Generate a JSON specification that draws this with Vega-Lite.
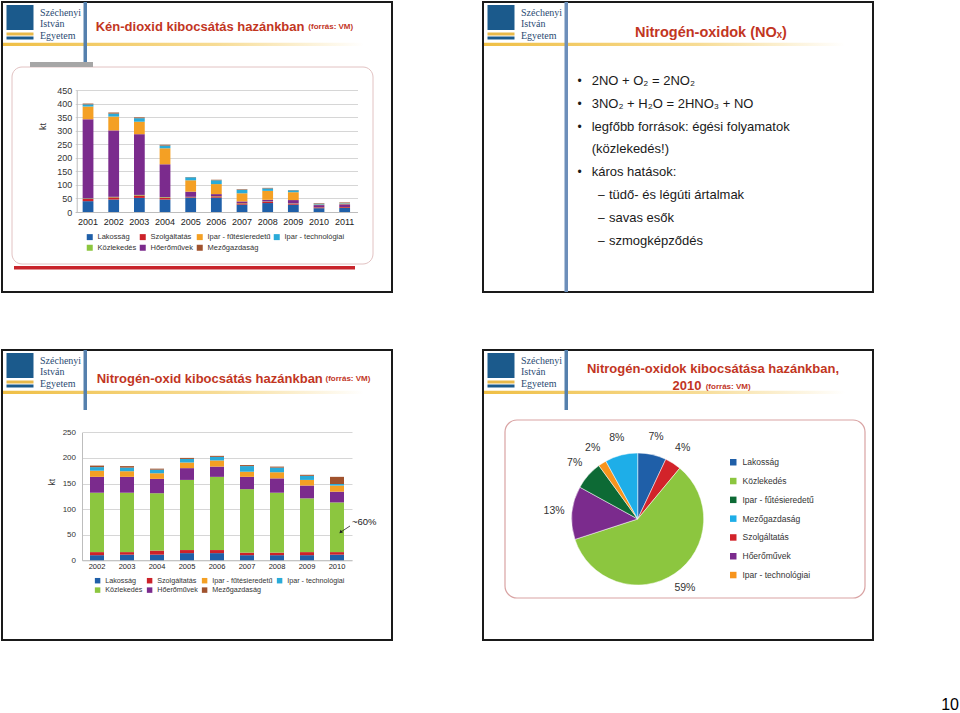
{
"$schema": "https://vega.github.io/schema/vega-lite/v6.json",
"padding": {"left": 1, "top": 1, "right": 0, "bottom": 0},
"config": {"view": {"stroke": "#1a1a1a", "strokeWidth": 2}, "font": "Liberation Sans"},
"title": {"text": "10", "orient": "bottom", "anchor": "end", "offset": 56, "dx": 85, "fontSize": 16, "fontWeight": "normal", "color": "#000000", "font": "Liberation Sans"},
"datasets": {
"so2": [
{"ev":"2001","s":"Lakosság","v":40},{"ev":"2001","s":"Szolgáltatás","v":8},{"ev":"2001","s":"Közlekedés","v":2},{"ev":"2001","s":"Hőerőművek","v":292},{"ev":"2001","s":"Ipar - fűtésieredetű","v":47},{"ev":"2001","s":"Ipar - technológiai","v":8},{"ev":"2001","s":"Mezőgazdaság","v":3},
{"ev":"2002","s":"Lakosság","v":46},{"ev":"2002","s":"Szolgáltatás","v":8},{"ev":"2002","s":"Közlekedés","v":2},{"ev":"2002","s":"Hőerőművek","v":245},{"ev":"2002","s":"Ipar - fűtésieredetű","v":51},{"ev":"2002","s":"Ipar - technológiai","v":11},{"ev":"2002","s":"Mezőgazdaság","v":4},
{"ev":"2003","s":"Lakosság","v":52},{"ev":"2003","s":"Szolgáltatás","v":9},{"ev":"2003","s":"Közlekedés","v":2},{"ev":"2003","s":"Hőerőművek","v":224},{"ev":"2003","s":"Ipar - fűtésieredetű","v":46},{"ev":"2003","s":"Ipar - technológiai","v":13},{"ev":"2003","s":"Mezőgazdaság","v":3},
{"ev":"2004","s":"Lakosság","v":46},{"ev":"2004","s":"Szolgáltatás","v":7},{"ev":"2004","s":"Közlekedés","v":2},{"ev":"2004","s":"Hőerőművek","v":121},{"ev":"2004","s":"Ipar - fűtésieredetű","v":59},{"ev":"2004","s":"Ipar - technológiai","v":10},{"ev":"2004","s":"Mezőgazdaság","v":3},
{"ev":"2005","s":"Lakosság","v":53},{"ev":"2005","s":"Szolgáltatás","v":2},{"ev":"2005","s":"Közlekedés","v":1},{"ev":"2005","s":"Hőerőművek","v":19},{"ev":"2005","s":"Ipar - fűtésieredetű","v":42},{"ev":"2005","s":"Ipar - technológiai","v":11},{"ev":"2005","s":"Mezőgazdaság","v":1},
{"ev":"2006","s":"Lakosság","v":53},{"ev":"2006","s":"Szolgáltatás","v":5},{"ev":"2006","s":"Közlekedés","v":1},{"ev":"2006","s":"Hőerőművek","v":7},{"ev":"2006","s":"Ipar - fűtésieredetű","v":37},{"ev":"2006","s":"Ipar - technológiai","v":14},{"ev":"2006","s":"Mezőgazdaság","v":2},
{"ev":"2007","s":"Lakosság","v":27},{"ev":"2007","s":"Szolgáltatás","v":5},{"ev":"2007","s":"Közlekedés","v":1},{"ev":"2007","s":"Hőerőművek","v":6},{"ev":"2007","s":"Ipar - fűtésieredetű","v":30},{"ev":"2007","s":"Ipar - technológiai","v":13},{"ev":"2007","s":"Mezőgazdaság","v":2},
{"ev":"2008","s":"Lakosság","v":33},{"ev":"2008","s":"Szolgáltatás","v":5},{"ev":"2008","s":"Közlekedés","v":1},{"ev":"2008","s":"Hőerőművek","v":6},{"ev":"2008","s":"Ipar - fűtésieredetű","v":33},{"ev":"2008","s":"Ipar - technológiai","v":9},{"ev":"2008","s":"Mezőgazdaság","v":2},
{"ev":"2009","s":"Lakosság","v":27},{"ev":"2009","s":"Szolgáltatás","v":4},{"ev":"2009","s":"Közlekedés","v":1},{"ev":"2009","s":"Hőerőművek","v":12},{"ev":"2009","s":"Ipar - fűtésieredetű","v":29},{"ev":"2009","s":"Ipar - technológiai","v":7},{"ev":"2009","s":"Mezőgazdaság","v":1},
{"ev":"2010","s":"Lakosság","v":14},{"ev":"2010","s":"Szolgáltatás","v":3},{"ev":"2010","s":"Közlekedés","v":0.5},{"ev":"2010","s":"Hőerőművek","v":8},{"ev":"2010","s":"Ipar - fűtésieredetű","v":2},{"ev":"2010","s":"Ipar - technológiai","v":3},{"ev":"2010","s":"Mezőgazdaság","v":2},
{"ev":"2011","s":"Lakosság","v":15},{"ev":"2011","s":"Szolgáltatás","v":3},{"ev":"2011","s":"Közlekedés","v":0.5},{"ev":"2011","s":"Hőerőművek","v":10},{"ev":"2011","s":"Ipar - fűtésieredetű","v":3},{"ev":"2011","s":"Ipar - technológiai","v":2},{"ev":"2011","s":"Mezőgazdaság","v":2}
],
"nox": [
{"ev":"2002","s":"Lakosság","v":10},{"ev":"2002","s":"Szolgáltatás","v":6},{"ev":"2002","s":"Közlekedés","v":116},{"ev":"2002","s":"Hőerőművek","v":31},{"ev":"2002","s":"Ipar - fűtésieredetű","v":12},{"ev":"2002","s":"Ipar - technológiai","v":7},{"ev":"2002","s":"Mezőgazdaság","v":3},
{"ev":"2003","s":"Lakosság","v":11},{"ev":"2003","s":"Szolgáltatás","v":5},{"ev":"2003","s":"Közlekedés","v":116},{"ev":"2003","s":"Hőerőművek","v":31},{"ev":"2003","s":"Ipar - fűtésieredetű","v":11},{"ev":"2003","s":"Ipar - technológiai","v":7},{"ev":"2003","s":"Mezőgazdaság","v":3},
{"ev":"2004","s":"Lakosság","v":11},{"ev":"2004","s":"Szolgáltatás","v":8},{"ev":"2004","s":"Közlekedés","v":112},{"ev":"2004","s":"Hőerőművek","v":28},{"ev":"2004","s":"Ipar - fűtésieredetű","v":11},{"ev":"2004","s":"Ipar - technológiai","v":7},{"ev":"2004","s":"Mezőgazdaság","v":2},
{"ev":"2005","s":"Lakosság","v":14},{"ev":"2005","s":"Szolgáltatás","v":6},{"ev":"2005","s":"Közlekedés","v":137},{"ev":"2005","s":"Hőerőművek","v":23},{"ev":"2005","s":"Ipar - fűtésieredetű","v":11},{"ev":"2005","s":"Ipar - technológiai","v":7},{"ev":"2005","s":"Mezőgazdaság","v":2},
{"ev":"2006","s":"Lakosság","v":14},{"ev":"2006","s":"Szolgáltatás","v":6},{"ev":"2006","s":"Közlekedés","v":143},{"ev":"2006","s":"Hőerőművek","v":20},{"ev":"2006","s":"Ipar - fűtésieredetű","v":12},{"ev":"2006","s":"Ipar - technológiai","v":7},{"ev":"2006","s":"Mezőgazdaság","v":2},
{"ev":"2007","s":"Lakosság","v":10},{"ev":"2007","s":"Szolgáltatás","v":5},{"ev":"2007","s":"Közlekedés","v":124},{"ev":"2007","s":"Hőerőművek","v":24},{"ev":"2007","s":"Ipar - fűtésieredetű","v":10},{"ev":"2007","s":"Ipar - technológiai","v":11},{"ev":"2007","s":"Mezőgazdaság","v":2},
{"ev":"2008","s":"Lakosság","v":10},{"ev":"2008","s":"Szolgáltatás","v":5},{"ev":"2008","s":"Közlekedés","v":117},{"ev":"2008","s":"Hőerőművek","v":28},{"ev":"2008","s":"Ipar - fűtésieredetű","v":12},{"ev":"2008","s":"Ipar - technológiai","v":9},{"ev":"2008","s":"Mezőgazdaság","v":2},
{"ev":"2009","s":"Lakosság","v":10},{"ev":"2009","s":"Szolgáltatás","v":6},{"ev":"2009","s":"Közlekedés","v":105},{"ev":"2009","s":"Hőerőművek","v":25},{"ev":"2009","s":"Ipar - fűtésieredetű","v":11},{"ev":"2009","s":"Ipar - technológiai","v":8},{"ev":"2009","s":"Mezőgazdaság","v":2},
{"ev":"2010","s":"Lakosság","v":11},{"ev":"2010","s":"Szolgáltatás","v":5},{"ev":"2010","s":"Közlekedés","v":97},{"ev":"2010","s":"Hőerőművek","v":21},{"ev":"2010","s":"Ipar - fűtésieredetű","v":12},{"ev":"2010","s":"Ipar - technológiai","v":3},{"ev":"2010","s":"Mezőgazdaság","v":14}
],
"pie": [
{"s":"Lakosság","v":7},{"s":"Szolgáltatás","v":4},{"s":"Közlekedés","v":59},{"s":"Hőerőművek","v":13},{"s":"Ipar - fűtésieredetű","v":7},{"s":"Ipar - technológiai","v":2},{"s":"Mezőgazdaság","v":8}
],
"bullets": [
{"r":1,"lvl":"1","m":"•","t":"2NO + O₂ = 2NO₂"},
{"r":2,"lvl":"1","m":"•","t":"3NO₂ + H₂O = 2HNO₃ + NO"},
{"r":3,"lvl":"1","m":"•","t":"legfőbb források: égési folyamatok"},
{"r":4,"lvl":"1","m":"","t":"(közlekedés!)"},
{"r":5,"lvl":"1","m":"•","t":"káros hatások:"},
{"r":6,"lvl":"2","m":"–","t":"tüdő- és légúti ártalmak"},
{"r":7,"lvl":"2","m":"–","t":"savas esők"},
{"r":8,"lvl":"2","m":"–","t":"szmogképződés"}
],
"logo": [{"w":"Széchenyi"},{"w":"István"},{"w":"Egyetem"}],
"src": [{"t":"(forrás: VM)"}],
"yr": [{"t":"2010"}],
"one": [{"e":"a"}]
},
"resolve": {"scale": {"color": "independent"}, "legend": {"color": "independent"}},
"spacing": 56,
"vconcat": [
{"hconcat": [
{
"width": 390, "height": 290,
"title": {"text": "Kén-dioxid kibocsátás hazánkban", "orient": "top", "anchor": "start", "frame": "group", "offset": 0, "dx": 93.7, "dy": 31.5, "font": "Liberation Sans", "fontSize": 13, "fontWeight": "bold", "color": "#c2361f"},
"resolve": {"scale": {"x": "independent", "y": "independent"}},
"layer": [
{"data": {"name": "one"}, "mark": {"type": "rect", "filled": false, "stroke": "#e2c2c2", "strokeWidth": 1, "cornerRadius": 10},
 "encoding": {"x": {"field": "e", "type": "nominal", "scale": {"range": [10, 371], "paddingInner": 0, "paddingOuter": 0}, "axis": null}, "y": {"field": "e", "type": "nominal", "scale": {"range": [65, 262], "paddingInner": 0, "paddingOuter": 0}, "axis": null}}},
{"data": {"name": "one"}, "mark": {"type": "rect", "color": "#a6a6a6"},
 "encoding": {"x": {"field": "e", "type": "nominal", "scale": {"range": [28, 91], "paddingInner": 0, "paddingOuter": 0}, "axis": null}, "y": {"field": "e", "type": "nominal", "scale": {"range": [60, 65], "paddingInner": 0, "paddingOuter": 0}, "axis": null}}},
{"data": {"name": "one"}, "mark": {"type": "rect", "color": "#c8242b"},
 "encoding": {"x": {"field": "e", "type": "nominal", "scale": {"range": [12, 353], "paddingInner": 0, "paddingOuter": 0}, "axis": null}, "y": {"field": "e", "type": "nominal", "scale": {"range": [264, 267.5], "paddingInner": 0, "paddingOuter": 0}, "axis": null}}},
{"data": {"name": "one"}, "mark": {"type": "rect", "fill": {"gradient": "linear", "stops": [{"offset": 0, "color": "#efbf45"}, {"offset": 0.55, "color": "#f7dc95"}, {"offset": 0.93, "color": "#ffffff"}]}},
 "encoding": {"x": {"field": "e", "type": "nominal", "scale": {"range": [1, 389], "paddingInner": 0, "paddingOuter": 0}, "axis": null}, "y": {"field": "e", "type": "nominal", "scale": {"range": [40.7, 44], "paddingInner": 0, "paddingOuter": 0}, "axis": null}}},
{"data": {"name": "one"}, "mark": {"type": "rect", "color": "#5580ad"},
 "encoding": {"x": {"field": "e", "type": "nominal", "scale": {"range": [81.5, 85], "paddingInner": 0, "paddingOuter": 0}, "axis": null}, "y": {"field": "e", "type": "nominal", "scale": {"range": [0, 60], "paddingInner": 0, "paddingOuter": 0}, "axis": null}}},
{"data": {"name": "one"}, "mark": {"type": "rect", "color": "#1b5a8c"},
 "encoding": {"x": {"field": "e", "type": "nominal", "scale": {"range": [4.5, 31.5], "paddingInner": 0, "paddingOuter": 0}, "axis": null}, "y": {"field": "e", "type": "nominal", "scale": {"range": [3, 28], "paddingInner": 0, "paddingOuter": 0}, "axis": null}}},
{"data": {"name": "one"}, "mark": {"type": "rect", "color": "#e9b949"},
 "encoding": {"x": {"field": "e", "type": "nominal", "scale": {"range": [4.5, 31.5], "paddingInner": 0, "paddingOuter": 0}, "axis": null}, "y": {"field": "e", "type": "nominal", "scale": {"range": [30.5, 33.5], "paddingInner": 0, "paddingOuter": 0}, "axis": null}}},
{"data": {"name": "one"}, "mark": {"type": "rect", "color": "#1b5a8c"},
 "encoding": {"x": {"field": "e", "type": "nominal", "scale": {"range": [4.5, 31.5], "paddingInner": 0, "paddingOuter": 0}, "axis": null}, "y": {"field": "e", "type": "nominal", "scale": {"range": [34.5, 37.5], "paddingInner": 0, "paddingOuter": 0}, "axis": null}}},
{"data": {"name": "logo"}, "mark": {"type": "text", "align": "left", "baseline": "middle", "font": "Liberation Serif", "fontSize": 10, "color": "#2b4b73"},
 "encoding": {"text": {"field": "w"}, "x": {"field": "w", "type": "nominal", "scale": {"type": "point", "range": [38, 38], "padding": 0}, "axis": null}, "y": {"field": "w", "type": "nominal", "sort": null, "scale": {"type": "point", "domain": ["Széchenyi", "István", "Egyetem"], "range": [10.5, 33.5], "padding": 0}, "axis": null}}},
{"data": {"name": "src"}, "mark": {"type": "text", "align": "left", "baseline": "middle", "fontSize": 8, "fontWeight": "bold", "color": "#c2361f"},
 "encoding": {"text": {"field": "t"}, "x": {"field": "t", "type": "nominal", "scale": {"type": "point", "range": [306.3, 306.3], "padding": 0}, "axis": null}, "y": {"field": "t", "type": "nominal", "scale": {"type": "point", "range": [25, 25], "padding": 0}, "axis": null}}},
{"data": {"name": "so2"},
 "transform": [{"calculate": "indexof(['Lakosság','Szolgáltatás','Közlekedés','Hőerőművek','Ipar - fűtésieredetű','Ipar - technológiai','Mezőgazdaság'], datum.s)", "as": "k"}],
 "mark": {"type": "bar"},
 "encoding": {
  "x": {"field": "ev", "type": "ordinal", "scale": {"range": [73.2, 355.5], "paddingInner": 0.58, "paddingOuter": 0.29}, "axis": {"orient": "bottom", "offset": -80, "title": null, "labelAngle": 0, "labelFontSize": 9, "labelColor": "#222", "labelPadding": 5.5, "ticks": false, "domainColor": "#bdbdbd", "grid": false}},
  "y": {"field": "v", "type": "quantitative", "stack": "zero", "scale": {"domain": [0, 450], "range": [210, 88], "nice": false}, "axis": {"orient": "left", "offset": -74.7, "values": [0, 50, 100, 150, 200, 250, 300, 350, 400, 450], "title": "kt", "titleFontSize": 9, "titleFontWeight": "normal", "titleColor": "#333", "titleX": -34.2, "titleY": 124, "titleBaseline": "middle", "titleAlign": "center", "titleAngle": -90, "labelFontSize": 9, "labelColor": "#333", "labelPadding": 5, "ticks": false, "grid": true, "gridColor": "#d6d6d6", "domainColor": "#bdbdbd"}},
  "color": {"field": "s", "type": "nominal", "scale": {"domain": ["Lakosság", "Szolgáltatás", "Ipar - fűtésieredetű", "Ipar - technológiai", "Közlekedés", "Hőerőművek", "Mezőgazdaság"], "range": ["#1f5fa8", "#cc2229", "#f4a024", "#2aabd9", "#8cc63f", "#7b2b8d", "#a0522d"]}, "legend": {"orient": "none", "direction": "horizontal", "legendX": 84, "legendY": 231, "columns": 4, "title": null, "symbolType": "square", "symbolSize": 36, "symbolStrokeWidth": 0, "labelFontSize": 7.5, "labelColor": "#333", "columnPadding": 2, "rowPadding": 2, "labelOffset": 4, "padding": 0}},
  "order": {"field": "k", "type": "quantitative"}
 }}
]
},
{
"width": 390, "height": 290,
"title": {"text": "Nitrogén-oxidok (NOₓ)", "orient": "top", "anchor": "start", "frame": "group", "offset": 0, "dx": 152, "dy": 38.25, "font": "Liberation Sans", "fontSize": 14.5, "fontWeight": "bold", "color": "#c2361f"},
"resolve": {"scale": {"x": "independent", "y": "independent"}},
"layer": [
{"data": {"name": "one"}, "mark": {"type": "rect", "fill": {"gradient": "linear", "stops": [{"offset": 0, "color": "#efbf45"}, {"offset": 0.55, "color": "#f7dc95"}, {"offset": 0.93, "color": "#ffffff"}]}},
 "encoding": {"x": {"field": "e", "type": "nominal", "scale": {"range": [1, 389], "paddingInner": 0, "paddingOuter": 0}, "axis": null}, "y": {"field": "e", "type": "nominal", "scale": {"range": [40.7, 44], "paddingInner": 0, "paddingOuter": 0}, "axis": null}}},
{"data": {"name": "one"}, "mark": {"type": "rect", "color": "#6d8fba"},
 "encoding": {"x": {"field": "e", "type": "nominal", "scale": {"range": [81.5, 85], "paddingInner": 0, "paddingOuter": 0}, "axis": null}, "y": {"field": "e", "type": "nominal", "scale": {"range": [0, 290], "paddingInner": 0, "paddingOuter": 0}, "axis": null}}},
{"data": {"name": "one"}, "mark": {"type": "rect", "color": "#1b5a8c"},
 "encoding": {"x": {"field": "e", "type": "nominal", "scale": {"range": [4.5, 31.5], "paddingInner": 0, "paddingOuter": 0}, "axis": null}, "y": {"field": "e", "type": "nominal", "scale": {"range": [3, 28], "paddingInner": 0, "paddingOuter": 0}, "axis": null}}},
{"data": {"name": "one"}, "mark": {"type": "rect", "color": "#e9b949"},
 "encoding": {"x": {"field": "e", "type": "nominal", "scale": {"range": [4.5, 31.5], "paddingInner": 0, "paddingOuter": 0}, "axis": null}, "y": {"field": "e", "type": "nominal", "scale": {"range": [30.5, 33.5], "paddingInner": 0, "paddingOuter": 0}, "axis": null}}},
{"data": {"name": "one"}, "mark": {"type": "rect", "color": "#1b5a8c"},
 "encoding": {"x": {"field": "e", "type": "nominal", "scale": {"range": [4.5, 31.5], "paddingInner": 0, "paddingOuter": 0}, "axis": null}, "y": {"field": "e", "type": "nominal", "scale": {"range": [34.5, 37.5], "paddingInner": 0, "paddingOuter": 0}, "axis": null}}},
{"data": {"name": "logo"}, "mark": {"type": "text", "align": "left", "baseline": "middle", "font": "Liberation Serif", "fontSize": 10, "color": "#2b4b73"},
 "encoding": {"text": {"field": "w"}, "x": {"field": "w", "type": "nominal", "scale": {"type": "point", "range": [38, 38], "padding": 0}, "axis": null}, "y": {"field": "w", "type": "nominal", "sort": null, "scale": {"type": "point", "domain": ["Széchenyi", "István", "Egyetem"], "range": [10.5, 33.5], "padding": 0}, "axis": null}}},
{"data": {"name": "bullets"}, "mark": {"type": "text", "align": "center", "baseline": "middle", "fontSize": 12, "color": "#1a1a1a"},
 "encoding": {"text": {"field": "m"}, "x": {"field": "lvl", "type": "nominal", "scale": {"type": "point", "domain": ["1", "2"], "range": [96.7, 118.3], "padding": 0}, "axis": null}, "y": {"field": "r", "type": "ordinal", "scale": {"type": "point", "range": [78.7, 239], "padding": 0}, "axis": null}}},
{"data": {"name": "bullets"}, "mark": {"type": "text", "align": "left", "baseline": "middle", "fontSize": 13, "color": "#1a1a1a"},
 "encoding": {"text": {"field": "t"}, "x": {"field": "lvl", "type": "nominal", "scale": {"type": "point", "domain": ["1", "2"], "range": [108.7, 126], "padding": 0}, "axis": null}, "y": {"field": "r", "type": "ordinal", "scale": {"type": "point", "range": [78.7, 239], "padding": 0}, "axis": null}}}
]
}
], "spacing": 89, "resolve": {"scale": {"color": "independent"}, "legend": {"color": "independent"}}},
{"hconcat": [
{
"width": 390, "height": 290,
"title": {"text": "Nitrogén-oxid kibocsátás hazánkban", "orient": "top", "anchor": "start", "frame": "group", "offset": 0, "dx": 94.7, "dy": 35.8, "font": "Liberation Sans", "fontSize": 13, "fontWeight": "bold", "color": "#c2361f"},
"resolve": {"scale": {"x": "independent", "y": "independent"}},
"layer": [
{"data": {"name": "one"}, "mark": {"type": "rect", "fill": {"gradient": "linear", "stops": [{"offset": 0, "color": "#efbf45"}, {"offset": 0.55, "color": "#f7dc95"}, {"offset": 0.93, "color": "#ffffff"}]}},
 "encoding": {"x": {"field": "e", "type": "nominal", "scale": {"range": [1, 389], "paddingInner": 0, "paddingOuter": 0}, "axis": null}, "y": {"field": "e", "type": "nominal", "scale": {"range": [40.7, 44], "paddingInner": 0, "paddingOuter": 0}, "axis": null}}},
{"data": {"name": "one"}, "mark": {"type": "rect", "color": "#5580ad"},
 "encoding": {"x": {"field": "e", "type": "nominal", "scale": {"range": [81.5, 85], "paddingInner": 0, "paddingOuter": 0}, "axis": null}, "y": {"field": "e", "type": "nominal", "scale": {"range": [0, 60], "paddingInner": 0, "paddingOuter": 0}, "axis": null}}},
{"data": {"name": "one"}, "mark": {"type": "rect", "color": "#1b5a8c"},
 "encoding": {"x": {"field": "e", "type": "nominal", "scale": {"range": [4.5, 31.5], "paddingInner": 0, "paddingOuter": 0}, "axis": null}, "y": {"field": "e", "type": "nominal", "scale": {"range": [3, 28], "paddingInner": 0, "paddingOuter": 0}, "axis": null}}},
{"data": {"name": "one"}, "mark": {"type": "rect", "color": "#e9b949"},
 "encoding": {"x": {"field": "e", "type": "nominal", "scale": {"range": [4.5, 31.5], "paddingInner": 0, "paddingOuter": 0}, "axis": null}, "y": {"field": "e", "type": "nominal", "scale": {"range": [30.5, 33.5], "paddingInner": 0, "paddingOuter": 0}, "axis": null}}},
{"data": {"name": "one"}, "mark": {"type": "rect", "color": "#1b5a8c"},
 "encoding": {"x": {"field": "e", "type": "nominal", "scale": {"range": [4.5, 31.5], "paddingInner": 0, "paddingOuter": 0}, "axis": null}, "y": {"field": "e", "type": "nominal", "scale": {"range": [34.5, 37.5], "paddingInner": 0, "paddingOuter": 0}, "axis": null}}},
{"data": {"name": "logo"}, "mark": {"type": "text", "align": "left", "baseline": "middle", "font": "Liberation Serif", "fontSize": 10, "color": "#2b4b73"},
 "encoding": {"text": {"field": "w"}, "x": {"field": "w", "type": "nominal", "scale": {"type": "point", "range": [38, 38], "padding": 0}, "axis": null}, "y": {"field": "w", "type": "nominal", "sort": null, "scale": {"type": "point", "domain": ["Széchenyi", "István", "Egyetem"], "range": [10.5, 33.5], "padding": 0}, "axis": null}}},
{"data": {"name": "src"}, "mark": {"type": "text", "align": "left", "baseline": "middle", "fontSize": 8, "fontWeight": "bold", "color": "#c2361f"},
 "encoding": {"text": {"field": "t"}, "x": {"field": "t", "type": "nominal", "scale": {"type": "point", "range": [323.5, 323.5], "padding": 0}, "axis": null}, "y": {"field": "t", "type": "nominal", "scale": {"type": "point", "range": [29.3, 29.3], "padding": 0}, "axis": null}}},
{"layer": [
{"data": {"name": "nox"},
 "transform": [{"calculate": "indexof(['Lakosság','Szolgáltatás','Közlekedés','Hőerőművek','Ipar - fűtésieredetű','Ipar - technológiai','Mezőgazdaság'], datum.s)", "as": "k"}],
 "mark": {"type": "bar"},
 "encoding": {
  "x": {"field": "ev", "type": "ordinal", "scale": {"range": [80, 350], "paddingInner": 0.533, "paddingOuter": 0.2665}, "axis": {"orient": "bottom", "offset": -79.7, "title": null, "labelAngle": 0, "labelFontSize": 7.5, "labelColor": "#222", "labelPadding": 2.5, "ticks": false, "domainColor": "#bdbdbd", "grid": false}},
  "y": {"field": "v", "type": "quantitative", "stack": "zero", "scale": {"domain": [0, 250], "range": [210.3, 82.3], "nice": false}, "axis": {"orient": "left", "offset": -80, "values": [0, 50, 100, 150, 200, 250], "title": "kt", "titleFontSize": 8.5, "titleFontWeight": "normal", "titleColor": "#333", "titleX": -30.3, "titleY": 131.7, "titleBaseline": "middle", "titleAlign": "center", "titleAngle": -90, "labelFontSize": 8, "labelColor": "#333", "labelPadding": 6.5, "ticks": false, "grid": true, "gridColor": "#d6d6d6", "domainColor": "#bdbdbd"}},
  "color": {"field": "s", "type": "nominal", "scale": {"domain": ["Lakosság", "Szolgáltatás", "Ipar - fűtésieredetű", "Ipar - technológiai", "Közlekedés", "Hőerőművek", "Mezőgazdaság"], "range": ["#1f5fa8", "#cc2229", "#f4a024", "#2aabd9", "#8cc63f", "#7b2b8d", "#a0522d"]}, "legend": {"orient": "none", "direction": "horizontal", "legendX": 92, "legendY": 227, "columns": 4, "title": null, "symbolType": "square", "symbolSize": 30, "symbolStrokeWidth": 0, "labelFontSize": 7.2, "labelColor": "#333", "columnPadding": 3, "rowPadding": 1.5, "labelOffset": 4, "padding": 0}},
  "order": {"field": "k", "type": "quantitative"}
 }},
{"data": {"values": [{}]}, "mark": {"type": "rule", "color": "#222", "strokeWidth": 0.8, "xOffset": 13, "x2Offset": 4},
 "encoding": {"x": {"datum": "2010"}, "x2": {"datum": "2010"}, "y": {"datum": 67}, "y2": {"datum": 55.5}}},
{"data": {"values": [{}]}, "mark": {"type": "point", "shape": "triangle", "filled": true, "size": 14, "angle": 229, "color": "#222", "opacity": 1, "xOffset": 4},
 "encoding": {"x": {"datum": "2010"}, "y": {"datum": 55.5}}},
{"data": {"values": [{"t": "~60%"}]}, "mark": {"type": "text", "align": "left", "baseline": "middle", "fontSize": 9.5, "color": "#222", "dx": 15},
 "encoding": {"text": {"field": "t"}, "x": {"datum": "2010"}, "y": {"datum": 75}}}
]}
]
},
{
"width": 390, "height": 290,
"title": {"text": "Nitrogén-oxidok kibocsátása hazánkban,", "orient": "top", "anchor": "middle", "frame": "group", "offset": 0, "dx": 35, "dy": 25.8, "font": "Liberation Sans", "fontSize": 13, "fontWeight": "bold", "color": "#c2361f"},
"resolve": {"scale": {"x": "independent", "y": "independent"}},
"layer": [
{"data": {"name": "one"}, "mark": {"type": "rect", "fill": "#ffffff", "stroke": "#d9a3a3", "strokeWidth": 1.2, "cornerRadius": 12},
 "encoding": {"x": {"field": "e", "type": "nominal", "scale": {"range": [22, 382], "paddingInner": 0, "paddingOuter": 0}, "axis": null}, "y": {"field": "e", "type": "nominal", "scale": {"range": [70, 248], "paddingInner": 0, "paddingOuter": 0}, "axis": null}}},
{"data": {"name": "one"}, "mark": {"type": "rect", "fill": {"gradient": "linear", "stops": [{"offset": 0, "color": "#efbf45"}, {"offset": 0.55, "color": "#f7dc95"}, {"offset": 0.93, "color": "#ffffff"}]}},
 "encoding": {"x": {"field": "e", "type": "nominal", "scale": {"range": [1, 389], "paddingInner": 0, "paddingOuter": 0}, "axis": null}, "y": {"field": "e", "type": "nominal", "scale": {"range": [40.7, 44], "paddingInner": 0, "paddingOuter": 0}, "axis": null}}},
{"data": {"name": "one"}, "mark": {"type": "rect", "color": "#5580ad"},
 "encoding": {"x": {"field": "e", "type": "nominal", "scale": {"range": [81.5, 85], "paddingInner": 0, "paddingOuter": 0}, "axis": null}, "y": {"field": "e", "type": "nominal", "scale": {"range": [0, 60], "paddingInner": 0, "paddingOuter": 0}, "axis": null}}},
{"data": {"name": "one"}, "mark": {"type": "rect", "color": "#1b5a8c"},
 "encoding": {"x": {"field": "e", "type": "nominal", "scale": {"range": [4.5, 31.5], "paddingInner": 0, "paddingOuter": 0}, "axis": null}, "y": {"field": "e", "type": "nominal", "scale": {"range": [3, 28], "paddingInner": 0, "paddingOuter": 0}, "axis": null}}},
{"data": {"name": "one"}, "mark": {"type": "rect", "color": "#e9b949"},
 "encoding": {"x": {"field": "e", "type": "nominal", "scale": {"range": [4.5, 31.5], "paddingInner": 0, "paddingOuter": 0}, "axis": null}, "y": {"field": "e", "type": "nominal", "scale": {"range": [30.5, 33.5], "paddingInner": 0, "paddingOuter": 0}, "axis": null}}},
{"data": {"name": "one"}, "mark": {"type": "rect", "color": "#1b5a8c"},
 "encoding": {"x": {"field": "e", "type": "nominal", "scale": {"range": [4.5, 31.5], "paddingInner": 0, "paddingOuter": 0}, "axis": null}, "y": {"field": "e", "type": "nominal", "scale": {"range": [34.5, 37.5], "paddingInner": 0, "paddingOuter": 0}, "axis": null}}},
{"data": {"name": "logo"}, "mark": {"type": "text", "align": "left", "baseline": "middle", "font": "Liberation Serif", "fontSize": 10, "color": "#2b4b73"},
 "encoding": {"text": {"field": "w"}, "x": {"field": "w", "type": "nominal", "scale": {"type": "point", "range": [38, 38], "padding": 0}, "axis": null}, "y": {"field": "w", "type": "nominal", "sort": null, "scale": {"type": "point", "domain": ["Széchenyi", "István", "Egyetem"], "range": [10.5, 33.5], "padding": 0}, "axis": null}}},
{"data": {"name": "yr"}, "mark": {"type": "text", "align": "left", "baseline": "middle", "fontSize": 13, "fontWeight": "bold", "color": "#c2361f"},
 "encoding": {"text": {"field": "t"}, "x": {"field": "t", "type": "nominal", "scale": {"type": "point", "range": [189.5, 189.5], "padding": 0}, "axis": null}, "y": {"field": "t", "type": "nominal", "scale": {"type": "point", "range": [36, 36], "padding": 0}, "axis": null}}},
{"data": {"name": "src"}, "mark": {"type": "text", "align": "left", "baseline": "middle", "fontSize": 8, "fontWeight": "bold", "color": "#c2361f"},
 "encoding": {"text": {"field": "t"}, "x": {"field": "t", "type": "nominal", "scale": {"type": "point", "range": [222.7, 222.7], "padding": 0}, "axis": null}, "y": {"field": "t", "type": "nominal", "scale": {"type": "point", "range": [36.5, 36.5], "padding": 0}, "axis": null}}},
{"data": {"name": "pie"},
 "transform": [{"calculate": "indexof(['Lakosság','Szolgáltatás','Közlekedés','Hőerőművek','Ipar - fűtésieredetű','Ipar - technológiai','Mezőgazdaság'], datum.s)", "as": "k"}, {"calculate": "datum.v + '%'", "as": "lbl"}],
 "encoding": {"theta": {"field": "v", "type": "quantitative", "stack": true}, "order": {"field": "k", "type": "quantitative"}},
 "layer": [
  {"mark": {"type": "arc", "outerRadius": 66, "xOffset": -40.3, "yOffset": 24, "stroke": "#ffffff", "strokeWidth": 0.5},
   "encoding": {"color": {"field": "s", "type": "nominal", "scale": {"domain": ["Lakosság", "Közlekedés", "Ipar - fűtésieredetű", "Mezőgazdaság", "Szolgáltatás", "Hőerőművek", "Ipar - technológiai"], "range": ["#1f5fa8", "#8cc63f", "#0d6a35", "#1eaee8", "#d2232a", "#7b2b8d", "#f7941d"]}, "legend": {"orient": "none", "legendX": 246, "legendY": 108, "direction": "vertical", "title": null, "symbolType": "square", "symbolSize": 42, "symbolStrokeWidth": 0, "labelFontSize": 8.5, "labelColor": "#333", "rowPadding": 9.8, "labelOffset": 5, "padding": 0}}}},
  {"mark": {"type": "text", "radius": 84, "xOffset": -40.3, "yOffset": 24, "fontSize": 10.5, "color": "#333"},
   "encoding": {"text": {"field": "lbl"}}}
 ]}
]
}
], "spacing": 89, "resolve": {"scale": {"color": "independent"}, "legend": {"color": "independent"}}}
]
}
